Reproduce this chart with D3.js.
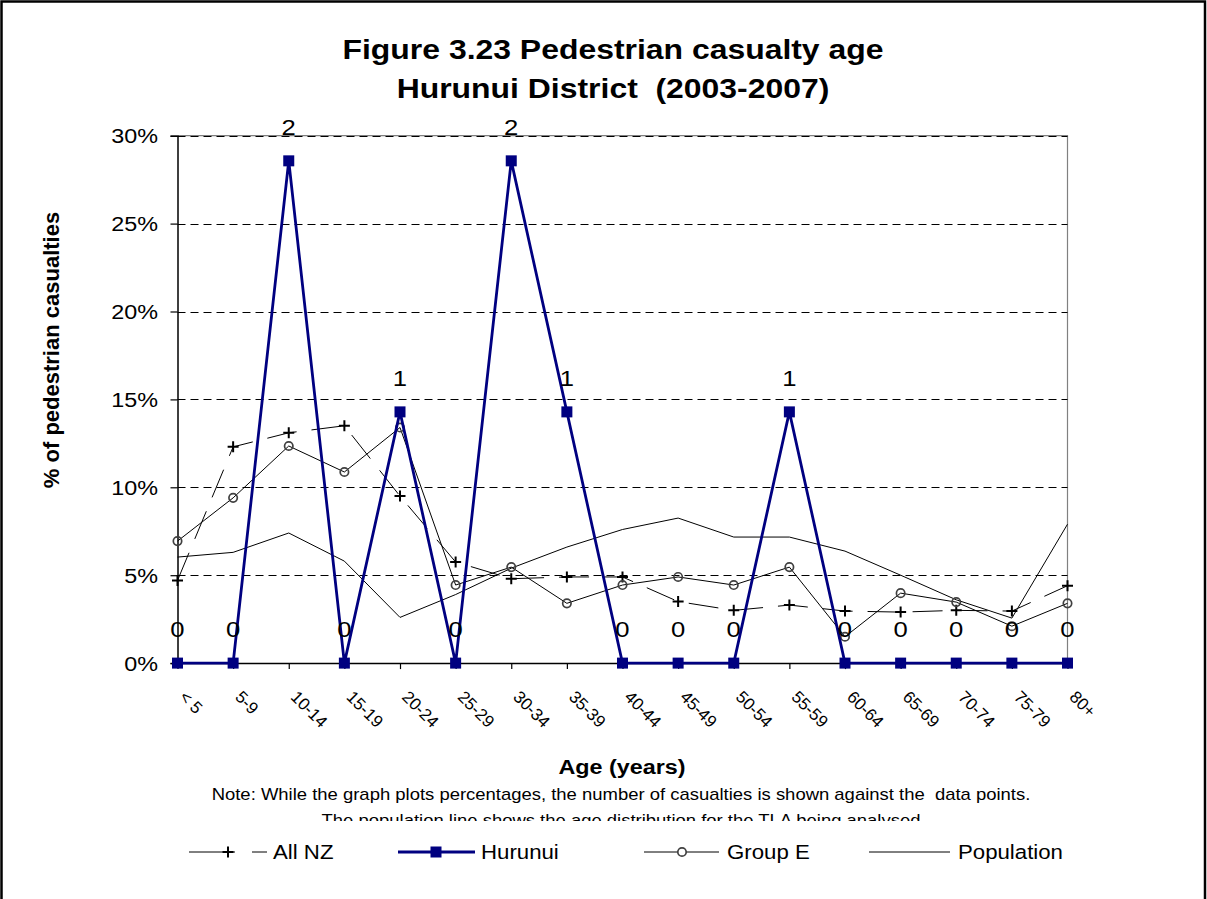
<!DOCTYPE html>
<html>
<head>
<meta charset="utf-8">
<script src="https://cdn.jsdelivr.net/npm/d3@7/dist/d3.min.js"></script>
<style>
  html, body { margin: 0; padding: 0; background: #fff; }
  svg { display: block; font-family: Arial, "Liberation Sans", sans-serif; }
  svg text { white-space: pre; }
</style>
</head>
<body>
<svg id="chart" width="1207" height="899"></svg>
<script>
// ---- data ----
const categories = ["< 5","5-9","10-14","15-19","20-24","25-29","30-34","35-39","40-44","45-49","50-54","55-59","60-64","65-69","70-74","75-79","80+"];
const allNZ      = [4.7, 12.3, 13.1, 13.5, 9.5, 5.75, 4.8, 4.9, 4.9, 3.5, 3.0, 3.3, 2.96, 2.9, 3.0, 2.96, 4.4];
const hurunui    = [0, 0, 28.57, 0, 14.29, 0, 28.57, 14.29, 0, 0, 0, 14.29, 0, 0, 0, 0, 0];
const hurunuiCounts = [0, 0, 2, 0, 1, 0, 2, 1, 0, 0, 0, 1, 0, 0, 0, 0, 0];
const groupE     = [6.94, 9.4, 12.35, 10.87, 13.4, 4.44, 5.46, 3.4, 4.44, 4.9, 4.44, 5.46, 1.5, 3.98, 3.47, 2.1, 3.4];
const population = [6.03, 6.3, 7.4, 5.8, 2.6, 3.9, 5.4, 6.6, 7.6, 8.25, 7.17, 7.17, 6.37, 5.0, 3.6, 2.56, 7.9];
const yTicks     = [0, 5, 10, 15, 20, 25, 30];

const titleLines = ["Figure 3.23 Pedestrian casualty age", "Hurunui District  (2003-2007)"];
const xTitle = "Age (years)";
const yTitle = "% of pedestrian casualties";
const noteLines = ["Note: While the graph plots percentages, the number of casualties is shown against the  data points.",
                   "The population line shows the age distribution for the TLA being analysed"];

// ---- layout ----
const svg = d3.select("#chart");
const SX = 1.14; // horizontal text stretch
const pL = 177.5, pR = 1067.5, pT = 135.7, pB = 663.1;
const x = d3.scalePoint().domain(categories).range([pL, pR]);
const y = d3.scaleLinear().domain([0, 30]).range([pB, pT]);
const NAVY = "#000080";

function stext(g, tx, ty, str, size, opts = {}) {
  return g.append("text")
    .attr("transform", `translate(${tx},${ty}) scale(${opts.sx ?? SX},1)`)
    .attr("text-anchor", opts.anchor || "middle")
    .attr("font-size", size)
    .attr("font-weight", opts.bold ? "bold" : "normal")
    .attr("fill", "#000")
    .text(str);
}

// outer frame
svg.append("rect").attr("x", 1.5).attr("y", 1.5).attr("width", 1203.5).attr("height", 950)
  .attr("fill", "none").attr("stroke", "#000").attr("stroke-width", 2.5);

// title
stext(svg, 613, 59, titleLines[0], 28, {bold: true});
stext(svg, 613, 98, titleLines[1], 28, {bold: true});

// plot border (top/right gray)
svg.append("path").attr("d", `M${pL},${pT}H${pR}V${pB}`)
  .attr("fill", "none").attr("stroke", "#808080").attr("stroke-width", 1.2);

// gridlines
svg.append("g").selectAll("line").data(yTicks.filter(d => d > 0)).join("line")
  .attr("x1", pL).attr("x2", pR)
  .attr("y1", d => Math.round(y(d)) + 0.5).attr("y2", d => Math.round(y(d)) + 0.5)
  .attr("stroke", "#000").attr("stroke-width", 1).attr("stroke-dasharray", "8,5");

// y axis
const yAxis = d3.axisLeft(y).tickValues(yTicks).tickSize(7).tickFormat(d => d + "%");
const gy = svg.append("g").attr("transform", `translate(${pL},0)`).call(yAxis);
gy.select(".domain").attr("stroke", "#000").attr("stroke-width", 1.5);
gy.selectAll(".tick line").attr("stroke", "#000").attr("stroke-width", 1.2);
gy.selectAll(".tick text").remove();
yTicks.forEach(t => stext(svg, 158, y(t) + 7.5, t + "%", 20.5, {anchor: "end"}));

// x axis
const xAxis = d3.axisBottom(x).tickSize(6).tickSizeOuter(0).tickFormat("");
const gx = svg.append("g").attr("transform", `translate(0,${pB})`).call(xAxis);
gx.select(".domain").attr("stroke", "#000").attr("stroke-width", 1.5);
gx.selectAll(".tick line").attr("stroke", "#000").attr("stroke-width", 1.2);
svg.append("g").selectAll("text").data(categories).join("text")
  .attr("transform", d => `translate(${x(d) + 1},698) rotate(45)`)
  .attr("text-anchor", "start").attr("font-size", 17).text(d => d);

// axis titles
stext(svg, 622, 774, xTitle, 20.5, {bold: true});
svg.append("text").attr("transform", "translate(59,350) rotate(-90)")
  .attr("text-anchor", "middle").attr("font-size", 22).attr("font-weight", "bold").text(yTitle);

// notes
svg.append("clipPath").attr("id", "noteClip").append("rect").attr("x", 0).attr("y", 780).attr("width", 1207).attr("height", 41);
const notes = svg.append("g").attr("clip-path", "url(#noteClip)");
stext(notes, 621, 800, noteLines[0], 16.2);
stext(notes, 621, 826, noteLines[1], 16.2);

// ---- series ----
const line = d3.line().x((d, i) => x(categories[i])).y(d => y(d));

svg.append("path").datum(population).attr("d", line)
  .attr("fill", "none").attr("stroke", "#000").attr("stroke-width", 1);

svg.append("path").datum(groupE).attr("d", line)
  .attr("fill", "none").attr("stroke", "#000").attr("stroke-width", 1);

svg.append("path").datum(allNZ).attr("d", line)
  .attr("fill", "none").attr("stroke", "#000").attr("stroke-width", 1).attr("stroke-dasharray", "30,15");

function plus(g, cx, cy, s) {
  g.append("path").attr("d", `M${cx - s},${cy}H${cx + s}M${cx},${cy - s}V${cy + s}`)
    .attr("stroke", "#000").attr("stroke-width", 2).attr("fill", "none");
}
const gPlus = svg.append("g");
allNZ.forEach((v, i) => plus(gPlus, x(categories[i]), y(v), 5.5));

svg.append("g").selectAll("circle").data(groupE).join("circle")
  .attr("cx", (d, i) => x(categories[i])).attr("cy", d => y(d)).attr("r", 4.2)
  .attr("fill", "none").attr("stroke", "#404040").attr("stroke-width", 1.7);

svg.append("path").datum(hurunui).attr("d", line)
  .attr("fill", "none").attr("stroke", NAVY).attr("stroke-width", 2.8);
svg.append("g").selectAll("rect").data(hurunui).join("rect")
  .attr("x", (d, i) => x(categories[i]) - 5.5).attr("y", d => y(d) - 5.5)
  .attr("width", 11).attr("height", 11).attr("fill", NAVY);

// data labels
const gLab = svg.append("g");
hurunui.forEach((v, i) => stext(gLab, x(categories[i]), y(v) - 26, String(hurunuiCounts[i]), 22.5));

// ---- legend ----
const ly = 852;
const lg = svg.append("g");
lg.append("line").attr("x1", 189).attr("x2", 267).attr("y1", ly).attr("y2", ly)
  .attr("stroke", "#000").attr("stroke-width", 1).attr("stroke-dasharray", "46,17");
plus(lg, 228, ly, 5.5);
stext(lg, 273, ly + 6.5, "All NZ", 19.5, {anchor: "start"});

lg.append("line").attr("x1", 398).attr("x2", 475).attr("y1", ly).attr("y2", ly)
  .attr("stroke", NAVY).attr("stroke-width", 2.8);
lg.append("rect").attr("x", 436 - 5.5).attr("y", ly - 5.5).attr("width", 11).attr("height", 11).attr("fill", NAVY);
stext(lg, 481, ly + 6.5, "Hurunui", 19.5, {anchor: "start"});

lg.append("line").attr("x1", 644).attr("x2", 719).attr("y1", ly).attr("y2", ly)
  .attr("stroke", "#000").attr("stroke-width", 1);
lg.append("circle").attr("cx", 682).attr("cy", ly).attr("r", 4.2)
  .attr("fill", "#fff").attr("stroke", "#404040").attr("stroke-width", 1.7);
stext(lg, 727, ly + 6.5, "Group E", 19.5, {anchor: "start"});

lg.append("line").attr("x1", 869).attr("x2", 950).attr("y1", ly).attr("y2", ly)
  .attr("stroke", "#000").attr("stroke-width", 1);
stext(lg, 958, ly + 6.5, "Population", 19.5, {anchor: "start"});
</script>
</body>
</html>
